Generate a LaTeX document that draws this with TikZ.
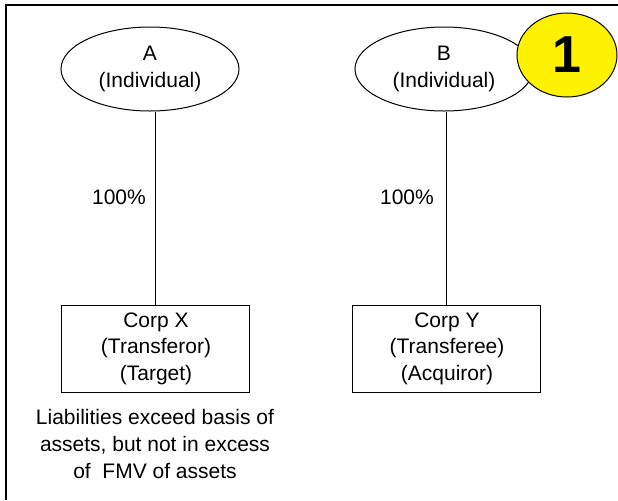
\documentclass[tikz,border=0pt]{standalone}
\usepackage{fontspec}
\setmainfont{Liberation Sans}
\usetikzlibrary{shapes.geometric}

\begin{document}
\begin{tikzpicture}[x=0.5pt, y=-0.5pt, line width=0.5pt,
    every node/.style={font=\fontsize{10.5}{13.3}\selectfont},
    orang/.style={ellipse, draw, minimum width=89pt, minimum height=42pt, inner sep=0pt, align=center},
    korp/.style={rectangle, draw, minimum width=94pt, minimum height=43.5pt, inner sep=0pt, align=center},
    tanda/.style={ellipse, draw, fill=yellow, minimum width=50pt, minimum height=42pt, inner sep=0pt,
      font=\fontsize{26}{30}\selectfont\bfseries}]
  \useasboundingbox (0,0) rectangle (618,500);
  % bingkai luar
  \draw[line width=1pt] (6,500) -- (6,5) -- (618,5);

  % pemegang saham
  \node[orang] (a) at (150,69) {A\\(Individual)};
  \node[orang] (b) at (444,69) {B\\(Individual)};
  \node[tanda] (satu) at (567,55) {1};

  % korporasi
  \node[korp] (x) at (156,348.5) {Corp X\\(Transferor)\\(Target)};
  \node[korp] (y) at (447,348.5) {Corp Y\\(Transferee)\\(Acquiror)};

  % kepemilikan
  \draw (x.north) -- (x.north |- a.south);
  \draw (y.north) -- (y.north |- b.south);
  \node (pa) at (119,197) {100\%};
  \node (pb) at (407,197) {100\%};

  % keterangan
  \node[align=center] (ket) at (155,444) {Liabilities exceed basis of\\assets, but not in excess\\of\ \ FMV of assets};
\end{tikzpicture}
\end{document}
